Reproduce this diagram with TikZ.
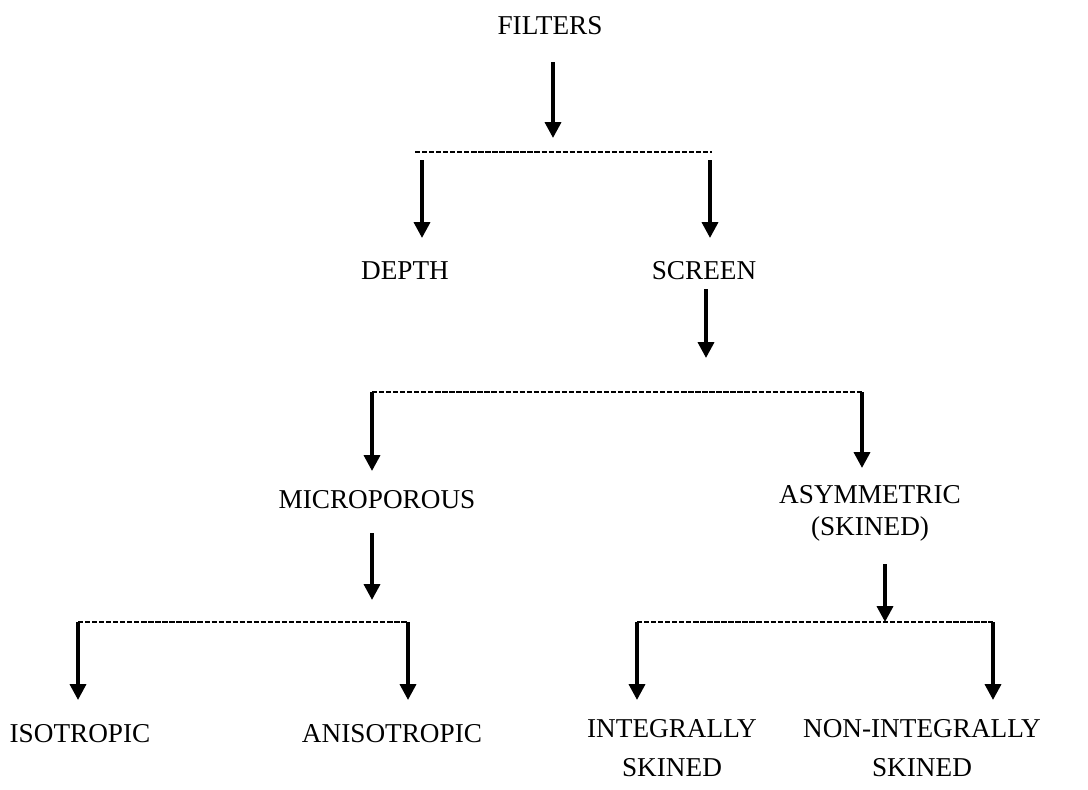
\documentclass[tikz,border=0pt]{standalone}
\usepackage{fontspec}
\setmainfont{Liberation Serif}
\usepackage{tikz}
\usetikzlibrary{arrows.meta}

\begin{document}
\begin{tikzpicture}[x=0.02cm, y=-0.02cm,
    lbl/.style={font=\fontsize{15.5}{18}\selectfont, inner sep=0pt, anchor=north, align=center},
    arr/.style={line width=2.1pt, -{Triangle[width=9pt,length=9pt]}},
    bar/.style={line width=0.8pt, dash pattern=on 3pt off 1pt}]
    \useasboundingbox (0,0) rectangle (1088,789);
    % labels
    \node[lbl] (filters) at (550,16) {FILTERS};
    \node[lbl] (depth) at (405,261) {DEPTH};
    \node[lbl] (screen) at (704,261) {SCREEN};
    \node[lbl] (micro) at (377,490) {MICROPOROUS};
    \node[lbl] (asym) at (870,485) {ASYMMETRIC\\(SKINED)};
    \node[lbl] (iso) at (80,724) {ISOTROPIC};
    \node[lbl] (aniso) at (392,724) {ANISOTROPIC};
    \node[lbl] (integ) at (672,719) {INTEGRALLY\\[4pt]SKINED};
    \node[lbl] (nonint) at (922,719) {NON-INTEGRALLY\\[4pt]SKINED};
    % branch points
    \coordinate (b1w) at (415,152);
    \coordinate (b1e) at (712,152);
    \coordinate (b1) at (553,152);
    \coordinate (d1) at (422,152);
    \coordinate (s1) at (710,152);
    \coordinate (b2) at (706,392);
    \coordinate (m2) at (372,392);
    \coordinate (a2) at (862,392);
    \coordinate (b3) at (372,622);
    \coordinate (i3) at (78,622);
    \coordinate (n3) at (408,622);
    \coordinate (b4) at (885,622);
    \coordinate (g4) at (637,622);
    \coordinate (k4) at (993,622);
    % bars
    \draw[bar] (b1w) -- (b1e);
    \draw[bar] (m2) -- (a2);
    \draw[bar] (i3) -- (n3);
    \draw[bar] (g4) -- (k4);
    % arrows
    \draw[arr, shorten <=0.54cm, shorten >=0.28cm] (filters.south -| b1) -- (b1);
    \draw[arr, shorten <=0.16cm, shorten >=0.46cm] (d1) -- (d1 |- depth.north);
    \draw[arr, shorten <=0.16cm, shorten >=0.46cm] (s1) -- (s1 |- screen.north);
    \draw[arr, shorten <=0.18cm, shorten >=0.68cm] (screen.south -| b2) -- (b2);
    \draw[arr, shorten >=0.38cm] (m2) -- (m2 |- micro.north);
    \draw[arr, shorten >=0.34cm] (a2) -- (a2 |- asym.north);
    \draw[arr, shorten <=0.48cm, shorten >=0.44cm] (micro.south -| b3) -- (b3);
    \draw[arr, shorten <=0.46cm] (asym.south -| b4) -- (b4);
    \draw[arr, shorten >=0.48cm] (i3) -- (i3 |- iso.north);
    \draw[arr, shorten >=0.48cm] (n3) -- (n3 |- aniso.north);
    \draw[arr, shorten >=0.38cm] (g4) -- (g4 |- integ.north);
    \draw[arr, shorten >=0.38cm] (k4) -- (k4 |- nonint.north);
\end{tikzpicture}
\end{document}
